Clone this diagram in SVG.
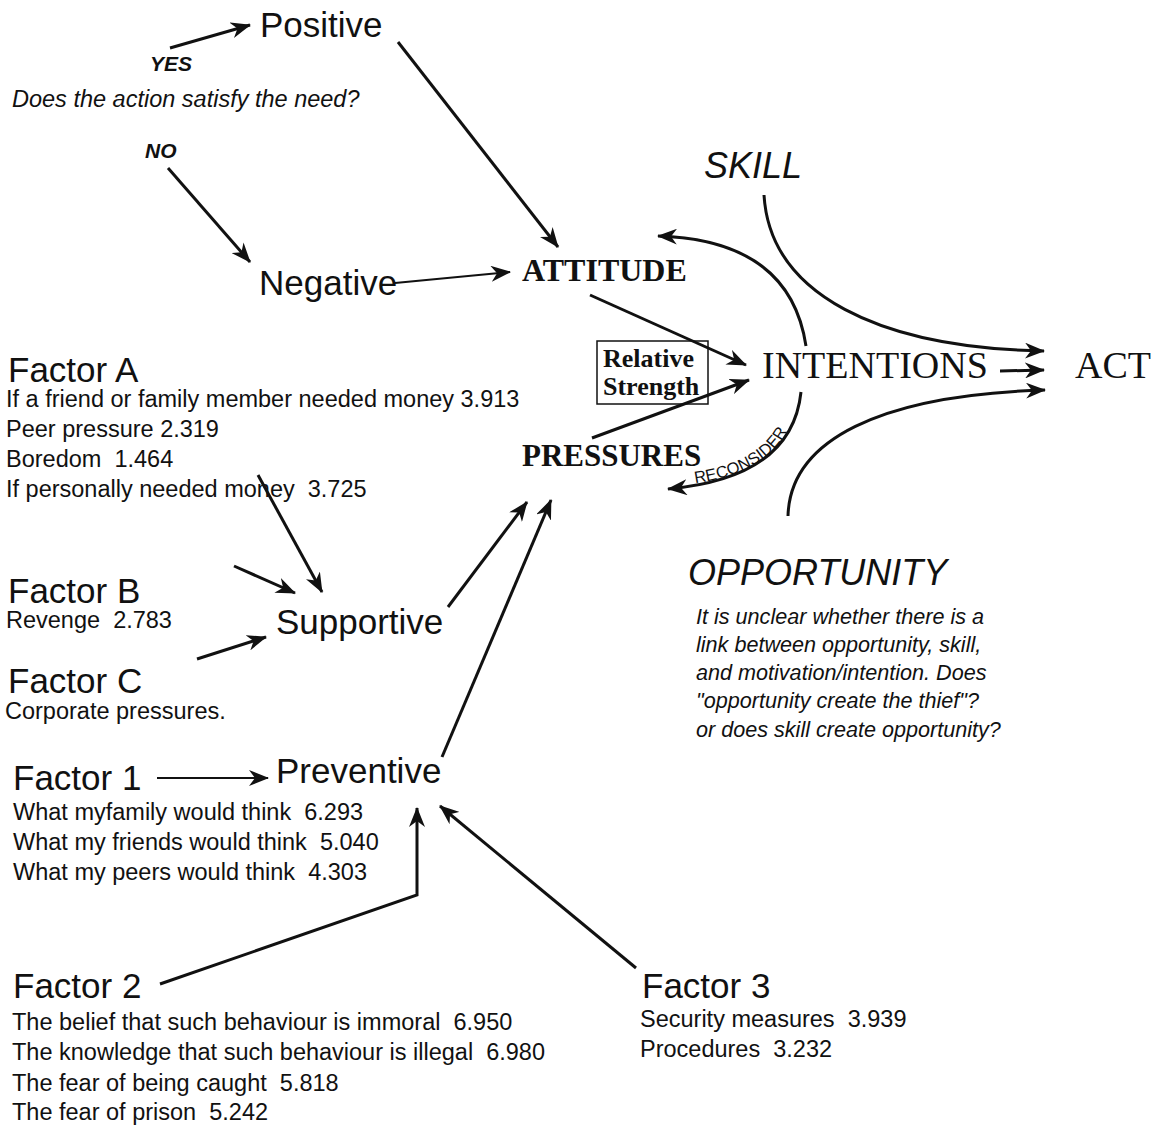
<svg xmlns="http://www.w3.org/2000/svg" width="1161" height="1126" viewBox="0 0 1161 1126" xml:space="preserve">
<style>
.s{font-family:"Liberation Sans",Arial,sans-serif;fill:#111;white-space:pre}
.big{font-size:35px}
.sm{font-size:23.5px}
.it{font-style:italic}
.b{font-weight:bold}
.p{font-size:21.6px}
.t{font-family:"Liberation Serif","Times New Roman",serif;fill:#111}
.ln{fill:none;stroke:#111;stroke-width:3}
.thin{stroke-width:2.2}
</style>
<defs>
<marker id="ah" markerUnits="userSpaceOnUse" viewBox="0 0 20 16" markerWidth="20" markerHeight="16" refX="19" refY="8" orient="auto">
<path d="M0,0 L20,8 L0,16 L6,8 z" fill="#111"/>
</marker>
<path id="rp" d="M690,484 Q787,472 797,400"/>
</defs>
<rect width="1161" height="1126" fill="#fff"/>

<g id="connectors">
<path class="ln" d="M170,48 L250,25" marker-end="url(#ah)"/>
<path class="ln" d="M168,168 L250,262" marker-end="url(#ah)"/>
<path class="ln thin" d="M395,283 L510,272" marker-end="url(#ah)"/>
<path class="ln" d="M398,42 L558,247" marker-end="url(#ah)"/>
<path class="ln" d="M590,295 L746,365" marker-end="url(#ah)"/>
<path class="ln" d="M592,438 L749,380" marker-end="url(#ah)"/>
<path class="ln" d="M806,346 Q790,240 658,236" marker-end="url(#ah)"/>
<path class="ln" d="M801,392 Q792,478 668,489" marker-end="url(#ah)"/>
<path class="ln" d="M764,195 C770,295 880,348 1044,351" marker-end="url(#ah)"/>
<path class="ln" d="M1000,371 L1044,370" marker-end="url(#ah)"/>
<path class="ln" d="M788,516 C790,440 880,395 1045,390" marker-end="url(#ah)"/>
<path class="ln" d="M258,475 L322,592" marker-end="url(#ah)"/>
<path class="ln" d="M234,566 L295,593" marker-end="url(#ah)"/>
<path class="ln" d="M197,659 L266,637" marker-end="url(#ah)"/>
<path class="ln" d="M448,607 L527,502" marker-end="url(#ah)"/>
<path class="ln" d="M442,757 L551,500" marker-end="url(#ah)"/>
<path class="ln thin" d="M157,778 L268,778" marker-end="url(#ah)"/>
<path class="ln" d="M160,984 L417,895 L417,808" marker-end="url(#ah)"/>
<path class="ln" d="M636,968 L440,806" marker-end="url(#ah)"/>
<text class="s" font-size="16.5"><textPath href="#rp" startOffset="5">RECONSIDER</textPath></text>
</g>

<g id="question">
<text class="s b it" font-size="21" x="150" y="71">YES</text>
<text class="s it" font-size="23.5" x="12" y="107">Does the action satisfy the need?</text>
<text class="s b it" font-size="21" x="145" y="158">NO</text>
</g>
<g id="positive"><text class="s big" x="260" y="37">Positive</text></g>
<g id="negative"><text class="s big" x="259" y="295">Negative</text></g>
<g id="attitude"><text class="t b" font-size="32" x="522" y="281">ATTITUDE</text></g>
<g id="pressures"><text class="t b" font-size="31" x="522" y="466">PRESSURES</text></g>
<g id="relative-strength">
<rect x="597" y="341" width="111" height="63" fill="none" stroke="#111" stroke-width="1.5"/>
<text class="t b" font-size="26" x="603" y="367">Relative</text>
<text class="t b" font-size="26" x="603" y="395">Strength</text>
</g>
<g id="intentions"><text class="t" font-size="38" x="762" y="378">INTENTIONS</text></g>
<g id="act"><text class="t" font-size="38" x="1075" y="378">ACT</text></g>
<g id="skill"><text class="s it" font-size="36" x="704" y="178">SKILL</text></g>
<g id="opportunity">
<text class="s it" font-size="36" x="688" y="585">OPPORTUNITY</text>
<text class="s it p" x="696" y="624">It is unclear whether there is a</text>
<text class="s it p" x="696" y="652">link between opportunity, skill,</text>
<text class="s it p" x="696" y="680">and motivation/intention. Does</text>
<text class="s it p" x="696" y="708">"opportunity create the thief"?</text>
<text class="s it p" x="696" y="737">or does skill create opportunity?</text>
</g>
<g id="factor-a">
<text class="s big" x="8" y="382">Factor A</text>
<text class="s sm" x="6" y="407">If a friend or family member needed money 3.913</text>
<text class="s sm" x="6" y="437">Peer pressure 2.319</text>
<text class="s sm" x="6" y="467">Boredom  1.464</text>
<text class="s sm" x="6" y="497">If personally needed money  3.725</text>
</g>
<g id="factor-b">
<text class="s big" x="8" y="603">Factor B</text>
<text class="s sm" x="6" y="628">Revenge  2.783</text>
</g>
<g id="factor-c">
<text class="s big" x="8" y="693">Factor C</text>
<text class="s sm" x="5" y="719">Corporate pressures.</text>
</g>
<g id="supportive"><text class="s big" x="276" y="634">Supportive</text></g>
<g id="preventive"><text class="s big" x="276" y="783">Preventive</text></g>
<g id="factor-1">
<text class="s big" x="13" y="790">Factor 1</text>
<text class="s sm" x="13" y="820">What myfamily would think  6.293</text>
<text class="s sm" x="13" y="850">What my friends would think  5.040</text>
<text class="s sm" x="13" y="880">What my peers would think  4.303</text>
</g>
<g id="factor-2">
<text class="s big" x="13" y="998">Factor 2</text>
<text class="s sm" x="12" y="1030">The belief that such behaviour is immoral  6.950</text>
<text class="s sm" x="12" y="1060">The knowledge that such behaviour is illegal  6.980</text>
<text class="s sm" x="12" y="1091">The fear of being caught  5.818</text>
<text class="s sm" x="12" y="1120">The fear of prison  5.242</text>
</g>
<g id="factor-3">
<text class="s big" x="642" y="998">Factor 3</text>
<text class="s sm" x="640" y="1027">Security measures  3.939</text>
<text class="s sm" x="640" y="1057">Procedures  3.232</text>
</g>
</svg>
